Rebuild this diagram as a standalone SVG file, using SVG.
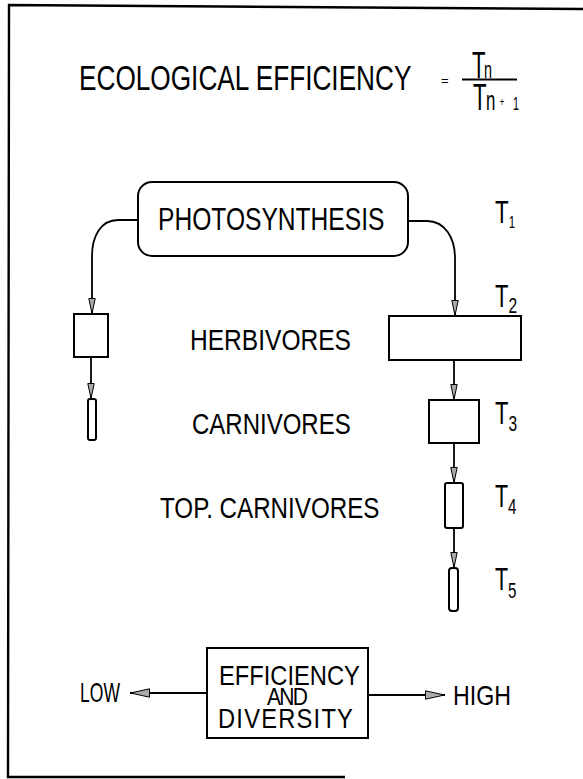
<svg xmlns="http://www.w3.org/2000/svg" width="583" height="779" viewBox="0 0 583 779">
<style>
  text { font-family: "Liberation Sans", Arial, sans-serif; fill: #000; }
  .box { fill: #fff; stroke: #000; stroke-width: 2; }
  .con { fill: none; stroke: #000; stroke-width: 1.8; }
  .frame { fill: none; stroke: #000; stroke-width: 2.4; }
  .lbl { font-size: 30px; }
  .tl { font-size: 31px; }
  .sub { font-size: 22px; }
  .eff { font-size: 27px; }
</style>
<defs>
  <marker id="arr" viewBox="0 0 16 8" markerWidth="16" markerHeight="8" refX="16" refY="4" markerUnits="userSpaceOnUse" orient="auto">
    <path d="M0.5,0.8 L15.5,4 L0.5,7.2 z" fill="#aaa" stroke="#000" stroke-width="1"/>
  </marker>
  <marker id="arrBig" viewBox="0 0 20 10" markerWidth="20" markerHeight="10" refX="20" refY="5" markerUnits="userSpaceOnUse" orient="auto">
    <path d="M0.5,0.8 L19.5,5 L0.5,9.2 z" fill="#aaa" stroke="#000" stroke-width="1"/>
  </marker>
</defs>
<rect width="583" height="779" fill="#fff"/>
<path class="frame" d="M583,9 L9,5 L8,777 L345,777"/>

<g id="title">
  <text transform="translate(79,90) scale(0.749,1)" font-size="35">ECOLOGICAL EFFICIENCY</text>
  <text x="441" y="85" font-size="13">=</text>
  <line x1="462" y1="79.5" x2="517" y2="79.5" stroke="#000" stroke-width="2"/>
  <text transform="scale(0.6,1)" font-size="37"><tspan x="786.7" y="78">T</tspan><tspan x="806.7" y="78" font-size="24">n</tspan><tspan x="788.3" y="110">T</tspan><tspan x="810" y="110" font-size="28">n</tspan><tspan x="833" y="106" font-size="13">+</tspan><tspan x="855" y="110" font-size="18">1</tspan></text>
</g>

<g id="photosynthesis">
  <rect class="box" x="138" y="182" width="270" height="74" rx="14"/>
  <text transform="translate(158,230) scale(0.794,1)" font-size="31">PHOTOSYNTHESIS</text>
</g>

<g id="left-herbivores"><rect class="box" x="74" y="314" width="34" height="43"/></g>
<g id="left-carnivores"><rect class="box" x="88" y="399" width="8" height="41" rx="2"/></g>

<g id="herbivores">
  <rect class="box" x="389" y="316" width="132" height="44"/>
  <text class="lbl" transform="translate(190,350) scale(0.8185,1)">HERBIVORES</text>
</g>
<g id="carnivores">
  <rect class="box" x="429" y="400" width="50" height="43"/>
  <text class="lbl" transform="translate(192,434) scale(0.80,1)">CARNIVORES</text>
</g>
<g id="top-carnivores">
  <rect class="box" x="445" y="483" width="18" height="45" rx="2"/>
  <text class="lbl" transform="translate(160,518) scale(0.806,1)">TOP. CARNIVORES</text>
</g>
<g id="t5-box">
  <rect class="box" x="449" y="568" width="9" height="43" rx="3"/>
</g>

<g id="levels">
  <text class="tl" transform="translate(495,223) scale(0.72,1)">T<tspan font-size="16" dy="5">1</tspan></text>
  <text class="tl" transform="translate(495,307) scale(0.707,1)">T<tspan class="sub" dy="6">2</tspan></text>
  <text class="tl" transform="translate(495,424) scale(0.707,1)">T<tspan class="sub" dy="7">3</tspan></text>
  <text class="tl" transform="translate(495,507) scale(0.69,1)">T<tspan class="sub" dy="7">4</tspan></text>
  <text class="tl" transform="translate(495,590) scale(0.69,1)">T<tspan class="sub" dy="8">5</tspan></text>
</g>

<g id="efficiency">
  <rect class="box" x="207" y="648" width="161" height="90"/>
  <text class="eff" transform="scale(0.878,1)"><tspan x="249.4" y="685">EFFICIENCY</tspan><tspan x="304.1" y="705" font-size="24" letter-spacing="-2">AND</tspan><tspan x="248.3" y="728" letter-spacing="1.4">DIVERSITY</tspan></text>
</g>
<g id="low"><text class="eff" transform="translate(80,702) scale(0.65,1)">LOW</text></g>
<g id="high"><text class="eff" transform="translate(453,705) scale(0.86,1)">HIGH</text></g>

<g id="connectors">
  <path class="con" d="M138,220 L118,220 C101,220 92,236 92,256 L92,314" marker-end="url(#arr)"/>
  <path class="con" d="M91,357 L91,399" marker-end="url(#arr)"/>
  <path class="con" d="M408,221 L427,221 C445,221 455,238 455,258 L455,316" marker-end="url(#arr)"/>
  <path class="con" d="M454,360 L454,400" marker-end="url(#arr)"/>
  <path class="con" d="M454,443 L454,483" marker-end="url(#arr)"/>
  <path class="con" d="M454,528 L454,568" marker-end="url(#arr)"/>
  <path class="con" d="M207,693 L130,693" marker-end="url(#arrBig)"/>
  <path class="con" d="M368,695 L445,695" marker-end="url(#arrBig)"/>
</g>
</svg>
